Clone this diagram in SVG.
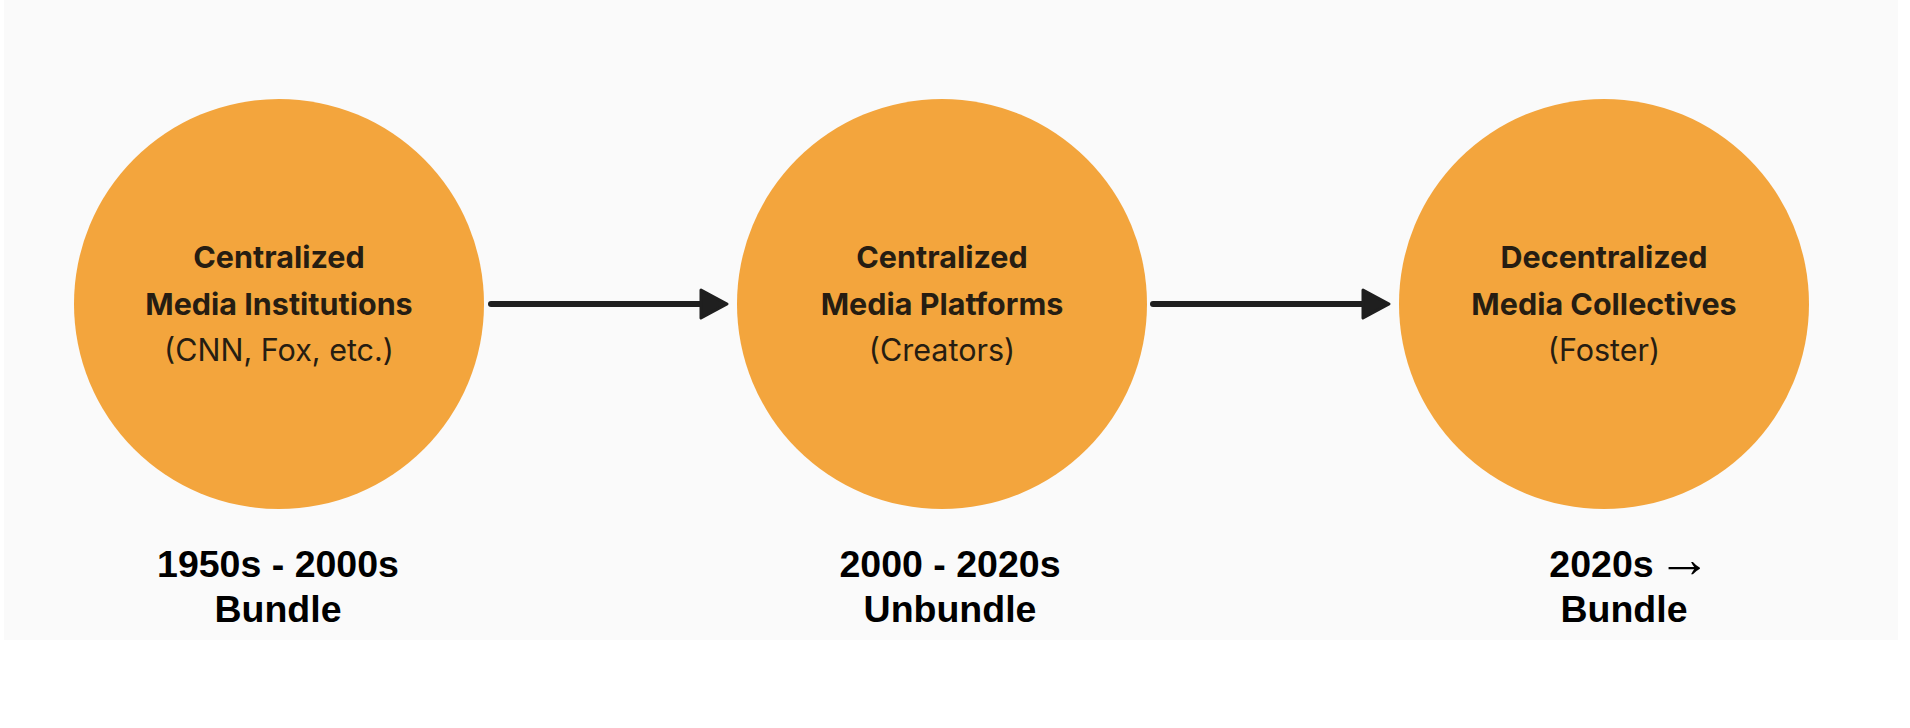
<svg xmlns="http://www.w3.org/2000/svg" width="1910" height="728" viewBox="0 0 1910 728">
<style>
.node{fill:#F3A53D}
.t1{font-family:Inter,"Noto Sans",sans-serif;font-weight:700;font-size:30.5px;fill:#261d12;text-anchor:middle}
.t2{font-family:Inter,"Noto Sans",sans-serif;font-weight:400;font-size:30.5px;fill:#261d12;text-anchor:middle}
.lab{font-family:"Liberation Sans",Arial,sans-serif;font-weight:700;font-size:37.5px;fill:#000;text-anchor:middle}
.arr{font-family:"Liberation Serif",serif;font-weight:400;font-size:53px}
.conn{stroke:#1f1f1f;stroke-width:6;stroke-linecap:round;fill:none}
</style>
<defs>
<marker id="ah" markerWidth="32" markerHeight="34" refX="12" refY="16" orient="auto" markerUnits="userSpaceOnUse">
<path d="M2,2 L28,16 L2,30 Z" fill="#1f1f1f" stroke="#1f1f1f" stroke-width="3" stroke-linejoin="round"/>
</marker>
</defs>
<rect x="0" y="0" width="1910" height="728" fill="#ffffff"/>
<rect x="4" y="0" width="1894" height="640" fill="#fafafa"/>
<g id="connectors">
<line class="conn" x1="491" y1="304" x2="711" y2="304" marker-end="url(#ah)"/>
<line class="conn" x1="1153" y1="304" x2="1373" y2="304" marker-end="url(#ah)"/>
</g>
<g id="node1">
<circle class="node" cx="279" cy="304" r="205"/>
<text class="t1" x="279" y="268">Centralized</text>
<text class="t1" x="279" y="315">Media Institutions</text>
<text class="t2" x="279" y="361">(CNN, Fox, etc.)</text>
</g>
<g id="node2">
<circle class="node" cx="942" cy="304" r="205"/>
<text class="t1" x="942" y="268">Centralized</text>
<text class="t1" x="942" y="315">Media Platforms</text>
<text class="t2" x="942" y="361">(Creators)</text>
</g>
<g id="node3">
<circle class="node" cx="1604" cy="304" r="205"/>
<text class="t1" x="1604" y="268">Decentralized</text>
<text class="t1" x="1604" y="315">Media Collectives</text>
<text class="t2" x="1604" y="361">(Foster)</text>
</g>
<g id="label1">
<text class="lab" x="278" y="577">1950s - 2000s</text>
<text class="lab" x="278" y="622">Bundle</text>
</g>
<g id="label2">
<text class="lab" x="950" y="577">2000 - 2020s</text>
<text class="lab" x="950" y="622">Unbundle</text>
</g>
<g id="label3">
<text class="lab" x="1630" y="577">2020s<tspan class="arr" dx="4">→</tspan></text>
<text class="lab" x="1624" y="622">Bundle</text>
</g>
</svg>
